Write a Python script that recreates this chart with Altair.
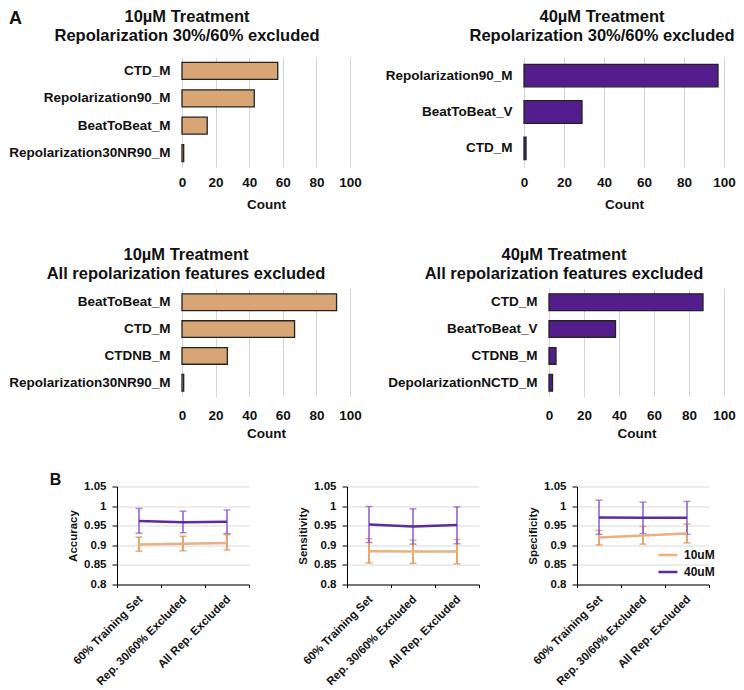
import altair as alt
import pandas as pd

FONT = "Liberation Sans"
INK = "#111111"
TAN = "#D8A674"
PURPLE = "#531D8B"

# ---------------- Panel A data ----------------
a1_features = ["CTD_M", "Repolarization90_M", "BeatToBeat_M", "Repolarization30NR90_M"]
a1_counts = [57, 43, 15, 1]
a2_features = ["Repolarization90_M", "BeatToBeat_V", "CTD_M"]
a2_counts = [97, 29, 1]
a3_features = ["BeatToBeat_M", "CTD_M", "CTDNB_M", "Repolarization30NR90_M"]
a3_counts = [92, 67, 27, 1]
a4_features = ["CTD_M", "BeatToBeat_V", "CTDNB_M", "DepolarizationNCTD_M"]
a4_counts = [88, 38, 4, 2]
count_ticks = [0, 20, 40, 60, 80, 100]

# ---------------- Panel B data ----------------
conditions = ["60% Training Set", "Rep. 30/60% Excluded", "All Rep. Excluded"]
groups = ["10uM", "40uM"]

acc_10 = [0.902, 0.904, 0.906]
acc_10_lo = [0.885, 0.886, 0.888]
acc_10_hi = [0.921, 0.923, 0.927]
acc_40 = [0.962, 0.959, 0.960]
acc_40_lo = [0.931, 0.932, 0.930]
acc_40_hi = [0.994, 0.987, 0.990]

sens_10 = [0.885, 0.884, 0.884]
sens_10_lo = [0.855, 0.854, 0.853]
sens_10_hi = [0.917, 0.913, 0.915]
sens_40 = [0.953, 0.948, 0.952]
sens_40_lo = [0.907, 0.903, 0.904]
sens_40_hi = [0.999, 0.993, 0.998]

spec_10 = [0.920, 0.925, 0.930]
spec_10_lo = [0.901, 0.903, 0.906]
spec_10_hi = [0.938, 0.948, 0.954]
spec_40 = [0.971, 0.970, 0.970]
spec_40_lo = [0.928, 0.930, 0.928]
spec_40_hi = [1.015, 1.010, 1.012]

metric_ticks = [0.8, 0.85, 0.9, 0.95, 1.0, 1.05]
line_colors = ["#E9B17E", "#5B2C9A"]
err_colors = ["#DF8A45", "#8A5CC6"]


def spacer(width, height, letter="", x=0, y=0, size=18):
    """Empty view used to set horizontal gaps; optionally carries a panel letter."""
    return alt.Chart(pd.DataFrame({"t": [letter]})).mark_text(
        font=FONT, fontSize=size, fontWeight="bold", color=INK,
        align="left", baseline="middle",
    ).encode(text="t:N", x=alt.value(x), y=alt.value(y)).properties(width=width, height=height)


def bar_panel(features, counts, color, title_lines, width, height, title_dx, title_offset,
              label_pad, title_pad):
    df = pd.DataFrame({"feature": features, "count": counts})
    bars = alt.Chart(df).mark_bar(color=color, stroke="#222222", strokeWidth=1.3).encode(
        x=alt.X(
            "count:Q",
            scale=alt.Scale(domain=[0, 100], nice=False),
            axis=alt.Axis(
                values=count_ticks, title="Count", grid=True, gridColor="#d4d4d4",
                domain=False, ticks=False, labelPadding=label_pad, titlePadding=title_pad,
                labelFlush=False,
                labelFont=FONT, titleFont=FONT, labelFontSize=13.5, titleFontSize=13.5,
                labelFontWeight="bold", titleFontWeight="bold",
                labelColor=INK, titleColor=INK,
            ),
        ),
        y=alt.Y(
            "feature:N", sort=features,
            scale=alt.Scale(paddingInner=0.38, paddingOuter=0.2),
            axis=alt.Axis(
                title=None, ticks=False, domain=False, labelPadding=12,
                labelFont=FONT, labelFontSize=13.5, labelFontWeight="bold",
                labelColor=INK, labelLimit=300,
            ),
        ),
    )
    return bars.properties(
        width=width, height=height,
        title=alt.TitleParams(
            text=title_lines, font=FONT, fontSize=16.5, fontWeight="bold", color=INK,
            anchor="middle", frame="group", dx=title_dx, offset=title_offset, lineHeight=19,
        ),
    )


def line_panel(metric, v10, lo10, hi10, v40, lo40, hi40, show_legend=False):
    df = pd.DataFrame({
        "condition": conditions * 2,
        "group": [groups[0]] * 3 + [groups[1]] * 3,
        "value": v10 + v40,
        "lo": lo10 + lo40,
        "hi": hi10 + hi40,
    })
    xenc = alt.X(
        "condition:N", sort=conditions,
        scale=alt.Scale(type="band", paddingInner=0, paddingOuter=0),
        axis=alt.Axis(
            title=None, labelAngle=-45, labelAlign="right", labelBaseline="middle",
            bandPosition=1, tickExtra=True, tickSize=3, tickColor="#000000",
            domainColor="#000000", labelFont=FONT, labelFontSize=11.5,
            labelFontWeight="bold", labelPadding=10, labelOffset=2, labelColor=INK,
            labelLimit=300,
        ),
    )
    yscale = alt.Scale(domain=[0.8, 1.05], nice=False, zero=False)
    yaxis = alt.Axis(
        title=metric, values=metric_ticks, format=".2~f", grid=True, gridColor="#d9d9d9",
        tickSize=5, tickColor="#000000", domainColor="#000000", labelPadding=6,
        titlePadding=5, labelFont=FONT, titleFont=FONT, labelFontSize=11.5,
        titleFontSize=11.5, labelFontWeight="bold", titleFontWeight="bold",
        labelColor=INK, titleColor=INK,
    )
    base = alt.Chart(df)
    layers = []
    # error bars, one colour per group (no scale, so they do not interfere with the legend)
    for g, col in zip(groups, err_colors):
        sub = base.transform_filter(alt.datum.group == g)
        layers.append(sub.mark_rule(strokeWidth=1.5, color=col).encode(
            x=xenc, y=alt.Y("lo:Q", scale=yscale, axis=yaxis), y2="hi:Q"))
        layers.append(sub.mark_tick(orient="horizontal", size=7, thickness=1.5, color=col).encode(
            x=xenc, y=alt.Y("lo:Q", scale=yscale, axis=yaxis)))
        layers.append(sub.mark_tick(orient="horizontal", size=7, thickness=1.5, color=col).encode(
            x=xenc, y=alt.Y("hi:Q", scale=yscale, axis=yaxis)))
    if show_legend:
        legend = alt.Legend(
            orient="none", legendX=80, legendY=57.5, title=None,
            symbolType="stroke", symbolSize=361, symbolStrokeWidth=2.5,
            labelFont=FONT, labelFontSize=12, labelFontWeight="bold", labelColor=INK,
            labelOffset=5, rowPadding=0,
        )
    else:
        legend = None
    lines = base.mark_line(strokeWidth=2.5).encode(
        x=xenc, y=alt.Y("value:Q", scale=yscale, axis=yaxis),
        color=alt.Color("group:N", scale=alt.Scale(domain=groups, range=line_colors), legend=legend),
    )
    layers.append(lines)
    return alt.layer(*layers).properties(width=132, height=98)


tl = bar_panel(a1_features, a1_counts, TAN,
               ["10µM Treatment", "Repolarization 30%/60% excluded"], 168, 110, -79, 12.5, 8.5, 8)
tr = bar_panel(a2_features, a2_counts, PURPLE,
               ["40µM Treatment", "Repolarization 30%/60% excluded"], 200, 110, -22, 12.5, 8.5, 8)
bl = bar_panel(a3_features, a3_counts, TAN,
               ["10µM Treatment", "All repolarization features excluded"], 168, 108, -80, 6, 11.5, 5)
br = bar_panel(a4_features, a4_counts, PURPLE,
               ["40µM Treatment", "All repolarization features excluded"], 175, 108, -72.5, 6, 11.5, 5)

row1 = alt.hconcat(spacer(174, 1, "A", 1, -38, 18), tl, spacer(174, 1), tr,
                   spacing=0, bounds="flush")
row2 = alt.hconcat(spacer(174, 1), bl, spacer(199, 1), br, spacing=0, bounds="flush")

p_acc = line_panel("Accuracy", acc_10, acc_10_lo, acc_10_hi, acc_40, acc_40_lo, acc_40_hi)
p_sens = line_panel("Sensitivity", sens_10, sens_10_lo, sens_10_hi, sens_40, sens_40_lo, sens_40_hi)
p_spec = line_panel("Specificity", spec_10, spec_10_lo, spec_10_hi, spec_40, spec_40_lo, spec_40_hi,
                    show_legend=True)
row3 = alt.hconcat(spacer(109, 1, "B", 41.7, -6.3, 16), p_acc, spacer(98, 1), p_sens,
                   spacer(98, 1), p_spec, spacing=0, bounds="flush").resolve_scale(
    color="independent")

top = alt.vconcat(row1, row2, spacing=35.5)
chart = alt.vconcat(top, row3, spacing=31.5).properties(
    padding={"left": 0, "top": 1, "right": 0, "bottom": 0},
    background="white",
).configure_view(stroke=None)

chart.save("out.html", embed_options={"renderer": "svg", "actions": False})
